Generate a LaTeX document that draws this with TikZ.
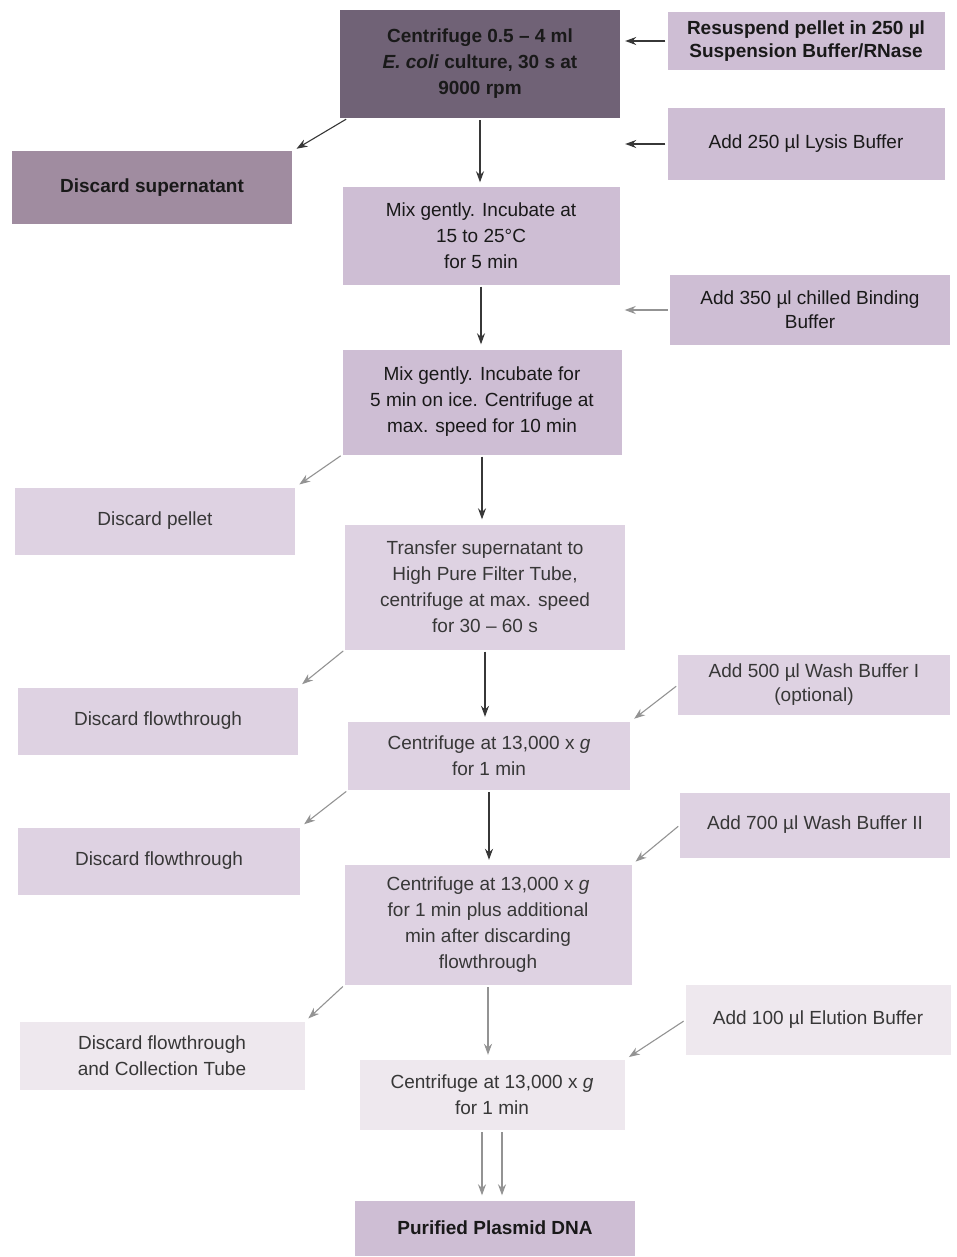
\documentclass[tikz,border=0pt]{standalone}
\usepackage{fontspec}
\setmainfont{Liberation Sans}
\usetikzlibrary{arrows.meta}
\definecolor{boxdark}{RGB}{112,98,118}
\definecolor{boxmid}{RGB}{160,140,160}
\definecolor{boxfill}{RGB}{206,190,212}
\definecolor{boxlight}{RGB}{222,210,226}
\definecolor{boxfaint}{RGB}{238,232,238}
\definecolor{inkdark}{RGB}{25,25,25}
\definecolor{inkgray}{RGB}{55,55,55}
\tikzset{
  stepbox/.style={fill=boxfill, align=center, inner sep=2pt, text=inkdark,
    font=\fontsize{19}{26}\selectfont},
  lightbox/.style={stepbox, fill=boxlight, text=inkgray},
  flowarrow/.style={-{Stealth[length=11pt,width=8pt]}, line width=1.1pt, draw=inkgray,
    shorten >=5pt, shorten <=2pt},
  lightarrow/.style={flowarrow, draw=gray!85}
}
\begin{document}
\begin{tikzpicture}[x=1pt,y=-1pt]
\useasboundingbox (0,0) rectangle (957,1257);
% main column
\node[stepbox, fill=boxdark, minimum width=280pt, minimum height=108pt, font=\bfseries\fontsize{19}{26}\selectfont] (b1) at (480,64)
  {Centrifuge 0.5 -- 4 ml\\\textit{E. coli} culture, 30 s at\\9000 rpm};
\node[stepbox, minimum width=277pt, minimum height=97pt] (b2) at (481,236)
  {Mix gently. Incubate at\\15 to 25\textdegree C\\for 5 min};
\node[stepbox, minimum width=279pt, minimum height=105pt] (b3) at (482,402)
  {Mix gently. Incubate for\\5 min on ice. Centrifuge at\\max. speed for 10 min};
\node[lightbox, minimum width=280pt, minimum height=125pt] (b4) at (485,587)
  {Transfer supernatant to\\High Pure Filter Tube,\\centrifuge at max. speed\\for 30 -- 60 s};
\node[lightbox, minimum width=282pt, minimum height=68pt] (b5) at (489,756)
  {Centrifuge at 13,000 x \textit{g}\\for 1 min};
\node[lightbox, minimum width=287pt, minimum height=120pt] (b6) at (488,925)
  {Centrifuge at 13,000 x \textit{g}\\for 1 min plus additional\\min after discarding\\flowthrough};
\node[lightbox, fill=boxfaint, minimum width=265pt, minimum height=70pt] (b7) at (492,1095)
  {Centrifuge at 13,000 x \textit{g}\\for 1 min};
\node[stepbox, minimum width=280pt, minimum height=55pt, font=\bfseries\fontsize{19}{26}\selectfont] (b8) at (495,1228)
  {Purified Plasmid DNA};
% right column
\node[stepbox, minimum width=277pt, minimum height=58pt, font=\bfseries\fontsize{19}{23}\selectfont] (r1) at (806,41)
  {Resuspend pellet in 250 µl\\Suspension Buffer/RNase};
\node[stepbox, minimum width=277pt, minimum height=72pt] (r2) at (806,144)
  {Add 250 µl Lysis Buffer};
\node[stepbox, minimum width=280pt, minimum height=70pt, font=\fontsize{19}{24}\selectfont] (r3) at (810,310)
  {Add 350 µl chilled Binding\\Buffer};
\node[lightbox, minimum width=272pt, minimum height=60pt, font=\fontsize{19}{24}\selectfont] (r4) at (814,685)
  {Add 500 µl Wash Buffer I\\(optional)};
\node[lightbox, minimum width=270pt, minimum height=65pt] (r5) at (815,825)
  {Add 700 µl Wash Buffer II};
\node[lightbox, fill=boxfaint, minimum width=265pt, minimum height=70pt] (r6) at (818,1020)
  {Add 100 µl Elution Buffer};
% left column
\node[stepbox, fill=boxmid, minimum width=280pt, minimum height=73pt, font=\bfseries\fontsize{19}{26}\selectfont] (l1) at (152,188)
  {Discard supernatant};
\node[lightbox, minimum width=280pt, minimum height=67pt] (l2) at (155,521)
  {Discard pellet};
\node[lightbox, minimum width=280pt, minimum height=67pt] (l3) at (158,721)
  {Discard flowthrough};
\node[lightbox, minimum width=282pt, minimum height=67pt] (l4) at (159,861)
  {Discard flowthrough};
\node[lightbox, fill=boxfaint, minimum width=285pt, minimum height=68pt] (l5) at (162,1056)
  {Discard flowthrough\\and Collection Tube};
% vertical arrows
\draw[flowarrow] (b1.south) -- (b1.south |- b2.north);
\draw[flowarrow] (b2.south) -- (b2.south |- b3.north);
\draw[flowarrow] (b3.south) -- (b3.south |- b4.north);
\draw[flowarrow] (b4.south) -- (b4.south |- b5.north);
\draw[flowarrow] (b5.south) -- (b5.south |- b6.north);
\draw[lightarrow] (b6.south) -- (b6.south |- b7.north);
\draw[lightarrow] ([xshift=-10pt]b7.south) -- ([xshift=-10pt]b7.south |- b8.north);
\draw[lightarrow] ([xshift=10pt]b7.south) -- ([xshift=10pt]b7.south |- b8.north);
% right arrows
\draw[flowarrow] (r1) -- (r1 -| b1.east);
\draw[flowarrow] (r2) -- (r2 -| b1.east);
\draw[lightarrow] (r3) -- (r3 -| b2.east);
\draw[lightarrow] (r4.west) -- (b5.north east);
\draw[lightarrow] (r5.west) -- (b6.north east);
\draw[lightarrow] (r6.west) -- (b7.north east);
% left arrows
\draw[flowarrow] ([xshift=8pt]b1.south west) -- (l1.north east);
\draw[lightarrow] (b3.south west) -- (l2.north east);
\draw[lightarrow] (b4.south west) -- (l3.north east);
\draw[lightarrow] (b5.south west) -- (l4.north east);
\draw[lightarrow] (b6.south west) -- (l5.north east);
\end{tikzpicture}
\end{document}
